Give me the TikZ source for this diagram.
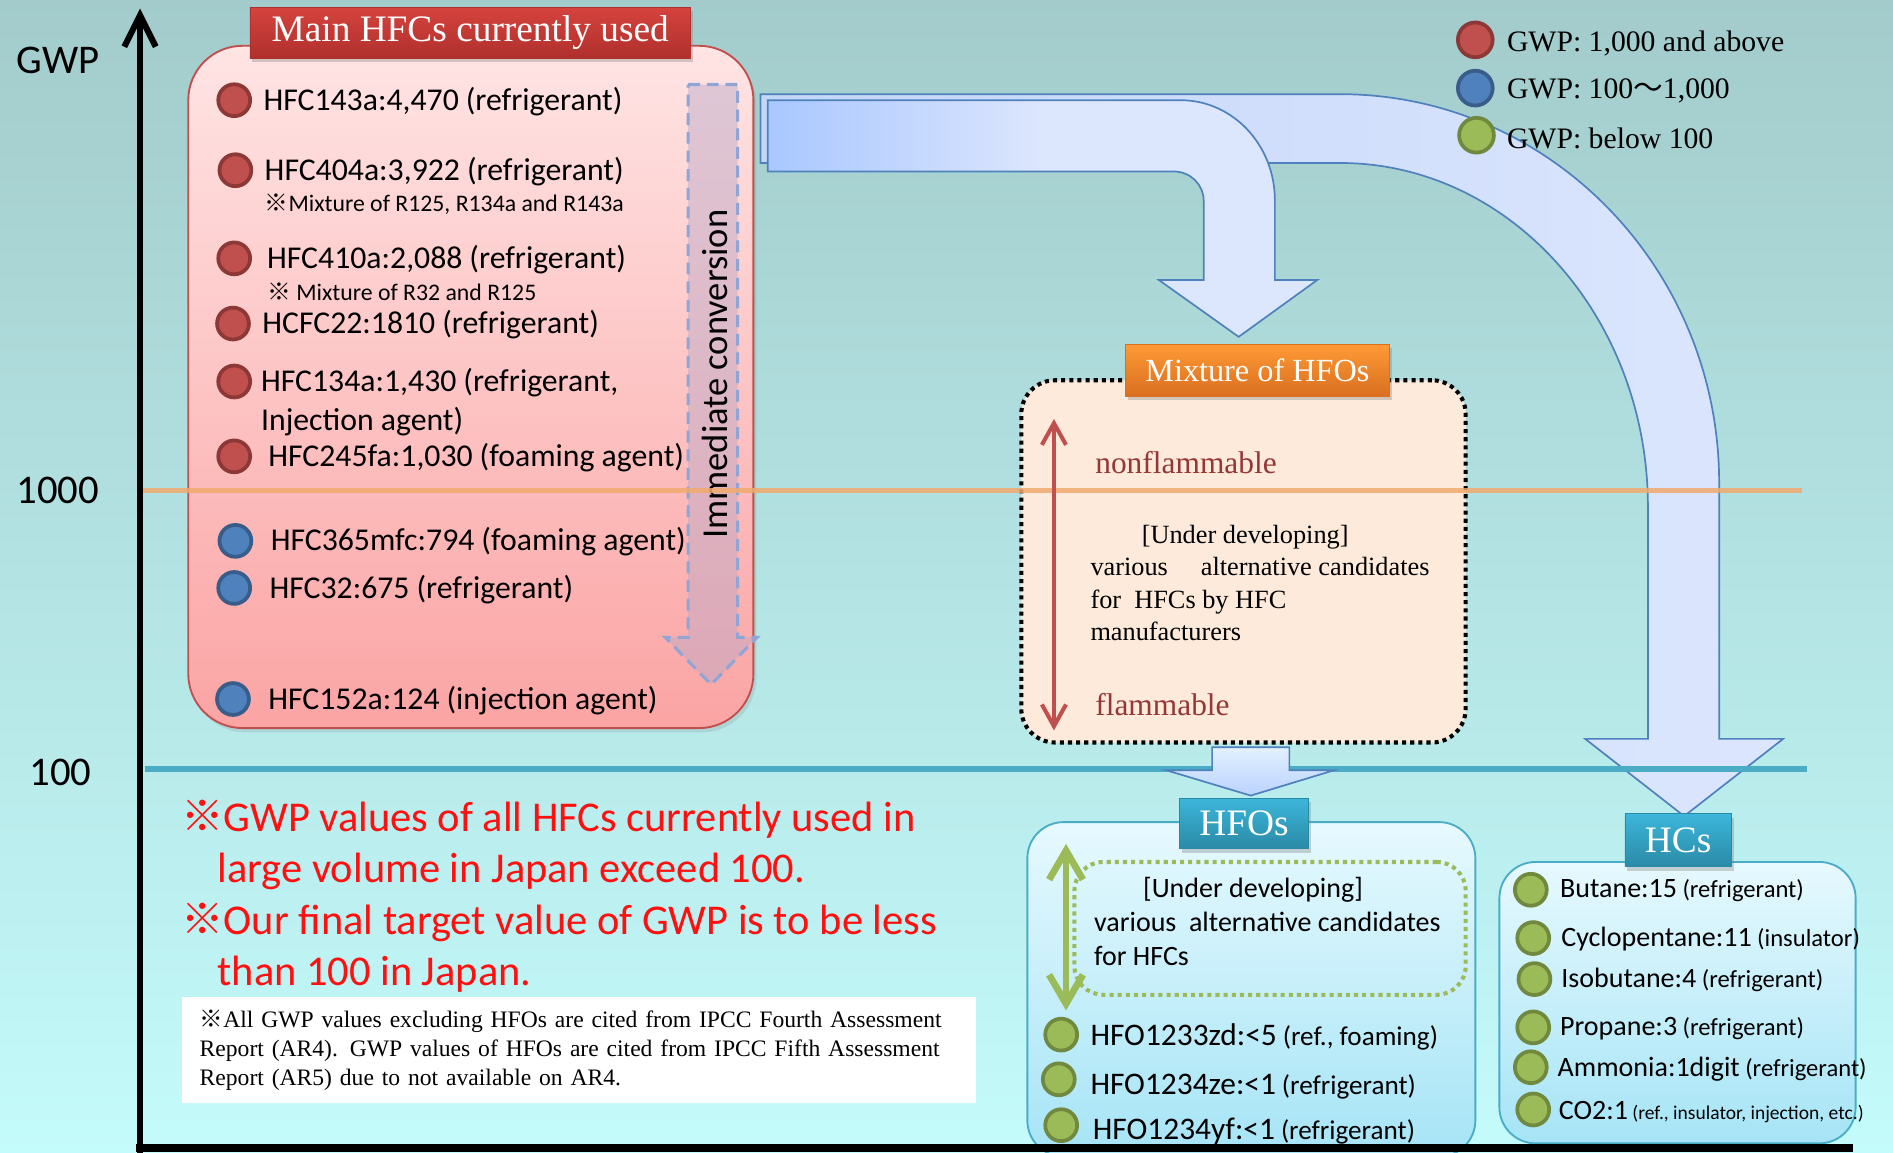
\documentclass[tikz,border=0pt]{standalone}
\usepackage{fontspec}
\setmainfont{Liberation Serif}
\newfontfamily\carlito{Carlito}
\newfontfamily\jpfont{Noto Sans CJK JP}
\usepackage{xcolor}
\usepackage{tikz}
\usetikzlibrary{arrows.meta,positioning,shadows}
\definecolor{bgtop}{HTML}{A3CBCB}
\definecolor{bgbot}{HTML}{C4FBFB}
\definecolor{hfctop}{HTML}{FFE4E4}
\definecolor{hfcbot}{HTML}{FBA4A4}
\definecolor{hfcline}{HTML}{C0504D}
\definecolor{redtabtop}{HTML}{D5433D}
\definecolor{redtabbot}{HTML}{B0302D}
\definecolor{bulred}{HTML}{C0504D}
\definecolor{bulredd}{HTML}{8C3836}
\definecolor{bulblue}{HTML}{4F81BD}
\definecolor{bulblued}{HTML}{385D8A}
\definecolor{bulgreen}{HTML}{9BBB59}
\definecolor{bulgreend}{HTML}{71893F}
\definecolor{arrline}{HTML}{4F81BD}
\definecolor{arrA}{HTML}{A9C7FF}
\definecolor{arrB}{HTML}{DCE6FD}
\definecolor{arrC}{HTML}{C4D6FA}
\definecolor{mixfill}{HTML}{FDEADA}
\definecolor{mixtop}{HTML}{FF9A35}
\definecolor{mixbot}{HTML}{D96F20}
\definecolor{hfotop}{HTML}{E6F9FE}
\definecolor{hfobot}{HTML}{A6E4F6}
\definecolor{tealline}{HTML}{4BACC6}
\definecolor{tealtop}{HTML}{3CB6DA}
\definecolor{tealbot}{HTML}{2A8AA6}
\definecolor{orangeline}{HTML}{F0AA6E}
\definecolor{flamred}{HTML}{953735}
\definecolor{notered}{HTML}{FF1010}
\definecolor{convfill}{HTML}{B8A8C8}
\definecolor{convline}{HTML}{8EA5D6}
\newcommand{\kome}{{\jpfont ※}}
\newcommand{\fsz}[2]{\fontsize{#1}{#2}\selectfont}
\newcommand{\purpose}[2][]{{#1\hspace{0.22em}(#2)}}

\begin{document}
\begin{tikzpicture}[x=0.025cm,y=-0.025cm,
    every node/.style={inner sep=0pt},
    axislbl/.style={font=\carlito\fsz{24}{28}},
    axisline/.style={line width=3.6pt,black},
    level/.style={line width=#1},
    hfcbox/.style={draw=hfcline,line width=1.1pt,rounded corners=1.125cm,top color=hfctop,bottom color=hfcbot,minimum width=11.7cm,minimum height=14.125cm,drop shadow={opacity=0.2,shadow xshift=0.6mm,shadow yshift=-0.9mm}},
    tabbox/.style={text=white,font=\fsz{22}{26},drop shadow={opacity=0.35,shadow xshift=0.5mm,shadow yshift=-0.8mm}},
    redtab/.style={tabbox,top color=redtabtop,bottom color=redtabbot,draw=redtabbot},
    orangetab/.style={tabbox,top color=mixtop,bottom color=mixbot,draw=mixbot},
    tealtab/.style={tabbox,top color=tealtop,bottom color=tealbot,draw=tealbot},
    redbullet/.style={circle,minimum size=6.6mm,fill=bulred,draw=bulredd,line width=2.2pt},
    bluebullet/.style={circle,minimum size=6.6mm,fill=bulblue,draw=bulblued,line width=2.2pt},
    greenbullet/.style={circle,minimum size=6.6mm,fill=bulgreen,draw=bulgreend,line width=2.2pt},
    hfcitem/.style={anchor=west,align=left,font=\carlito\fsz{18.7}{22.75}},
    hfcnote/.style={anchor=west,font=\carlito\fsz{14}{17}},
    convarrow/.style={draw=convline,dash pattern=on 7pt off 4pt,line width=1.8pt,fill=convfill,fill opacity=0.45},
    convtext/.style={font=\carlito\fsz{21.5}{25}},
    bigarrow/.style={draw=arrline,line width=1pt},
    mixbox/.style={draw=black,line width=2.4pt,dash pattern=on 2.4pt off 2.4pt,rounded corners=0.7cm,fill=mixfill,minimum width=9.2cm,minimum height=7.5cm},
    flamlbl/.style={anchor=west,text=flamred,font=\fsz{18.5}{22}},
    mixbody/.style={anchor=west,align=left,font=\fsz{15.5}{19}},
    bluebox/.style={draw=tealline,line width=1.1pt,top color=hfotop,bottom color=hfobot,rounded corners=0.75cm},
    canddot/.style={draw=bulgreen,line width=2.4pt,dash pattern=on 2.4pt off 2.4pt,rounded corners=0.6cm,minimum width=8.1cm,minimum height=2.75cm},
    hfobody/.style={anchor=west,align=left,font=\carlito\fsz{16.5}{20}},
    hfoitem/.style={anchor=west,font=\carlito\fsz{18.5}{22}},
    hcitem/.style={anchor=west,font=\carlito\fsz{16.5}{20}},
    arr/.style={line width=#1},
    legbullet/.style={circle,minimum size=7.2mm,line width=2.2pt},
    legtext/.style={anchor=west,font=\fsz{17.5}{21}},
    redline/.style={anchor=west,align=left,text=notered,font=\carlito\fsz{25}{30}},
    fnbox/.style={fill=white,minimum width=16.425cm,minimum height=2.2cm,text width=15.7cm,align=left,font=\fsz{13.9}{17}}
  ]
  \fill[top color=bgtop,bottom color=bgbot] (0,0) rectangle (1568,955);
  \useasboundingbox (0,0) rectangle (1568,955);

  \node[hfcbox] (hfcbox) at (390,320.5) {};

  \path[convarrow] (570,70) -- (611,70) -- (611,528) -- (627,528) -- (589,567) -- (551,528) -- (570,528) -- cycle;
  \node[convtext,rotate=90] (conv) at (592,310) {Immediate conversion};

  \path[bigarrow,left color=arrC,right color=arrB] (630,78) -- (1110,78) .. controls (1283,78) and (1424,222) .. (1424,400)
    -- (1424,612) -- (1477,612) -- (1395,676) -- (1313,612) -- (1365,612) -- (1365,420)
    .. controls (1365,263) and (1251,135) .. (1110,135) -- (630,135) -- cycle;
  \path[bigarrow,left color=arrA,right color=arrB,middle color=arrB] (636,83) -- (978,83) .. controls (1021,83) and (1056,120) .. (1056,166)
    -- (1056,232) -- (1091,232) -- (1026,279) -- (960,232) -- (997,232) -- (997,166)
    .. controls (997,153) and (986,142) .. (972,142) -- (636,142) -- cycle;

  \node[mixbox] (mixbox) at (1030,465) {};
  \node[bluebox,minimum width=9.275cm,minimum height=6.925cm] (hfobox) at (1036.5,819.5) {};
  \node[bluebox,minimum width=7.375cm,minimum height=5.825cm] (hcbox) at (1389.5,830.5) {};

  \coordinate (l1000a) at (116,406);
  \coordinate (l1000b) at (1493,406);
  \coordinate (l100a) at (120,637);
  \coordinate (l100b) at (1497,637);
  \draw[level=2.8pt,orangeline,opacity=0.85] (l1000a) -- (l1000b);
  \draw[level=4pt,tealline] (l100a) -- (l100b);

  \path[bigarrow,top color=hfotop!60!arrB,bottom color=arrA!80!white] (1004,619) -- (1068,619) -- (1068,638) -- (1105,638) -- (1036,659) -- (966,638) -- (1004,638) -- cycle;

  \node[redtab,minimum width=9.125cm,minimum height=1.05cm] (hfctab) at (389.5,27) {Main HFCs currently used};
  \node[orangetab,minimum width=5.475cm,minimum height=1.075cm,font=\fsz{19}{23}] (mixtab) at (1041.5,306.5) {Mixture of HFOs};
  \node[tealtab,minimum width=2.675cm,minimum height=1.05cm] (hfotab) at (1030.5,682) {HFOs};
  \node[tealtab,minimum width=2.2cm,minimum height=1.1cm] (hctab) at (1390,696) {HCs};

  \node[redbullet] (c1) at (194,83) {};
  \node[hfcitem] (t1) at (218,84) {HFC143a:4,470\purpose{refrigerant}};
  \node[redbullet] (c2) at (195,141) {};
  \node[hfcitem] (t2) at (219,142) {HFC404a:3,922\purpose{refrigerant}};
  \node[hfcnote] (n2) at (219,169) {\kome Mixture of R125, R134a and R143a};
  \node[redbullet] (c3) at (194,214) {};
  \node[hfcitem] (t3) at (221,215) {HFC410a:2,088\purpose{refrigerant}};
  \node[hfcnote] (n3) at (221,242) {\kome\ Mixture of R32 and R125};
  \node[redbullet] (c4) at (193,268) {};
  \node[hfcitem] (t4) at (217,269) {HCFC22:1810\purpose{refrigerant}};
  \node[redbullet] (c5) at (194,316) {};
  \node[hfcitem] (t5) at (216,333) {HFC134a:1,430\hspace{0.22em}(refrigerant,\\Injection agent)};
  \node[redbullet] (c6) at (194,378) {};
  \node[hfcitem] (t6) at (222,379) {HFC245fa:1,030\purpose{foaming agent}};
  \node[bluebullet] (c7) at (195,448) {};
  \node[hfcitem] (t7) at (224,449) {HFC365mfc:794\purpose{foaming agent}};
  \node[bluebullet] (c8) at (194,487) {};
  \node[hfcitem] (t8) at (223,488) {HFC32:675\purpose{refrigerant}};
  \node[bluebullet] (c9) at (193,579) {};
  \node[hfcitem] (t9) at (222,580) {HFC152a:124\purpose{injection agent}};

  \coordinate (flamtop) at (873,347);
  \coordinate (flambot) at (873,605);
  \draw[arr=2.4pt,bulred,{Straight Barb[length=4.5mm,width=5mm]}-{Straight Barb[length=4.5mm,width=5mm]}] (flamtop) -- (flambot);
  \node[flamlbl] (nonflam) at (907,383) {nonflammable};
  \node[flamlbl] (flam) at (907,584) {flammable};
  \node[mixbody] (mixtext) at (903,483) {\hspace*{1.95em}[Under developing]\\various\quad\ alternative candidates\\for~ HFCs by HFC\\manufacturers};

  \node[canddot] (cand) at (1052,769) {};
  \coordinate (candtop) at (883,699);
  \coordinate (candbot) at (883,837);
  \draw[arr=4pt,bulgreen,{Straight Barb[length=6mm,width=7mm]}-{Straight Barb[length=6mm,width=7mm]}] (candtop) -- (candbot);
  \node[hfobody] (candtext) at (906,763) {\hspace*{1.75em}[Under developing]\\various\ \ alternative candidates\\for HFCs};

  \node[greenbullet] (g1) at (879,857) {};
  \node[hfoitem] (h1) at (903,859) {HFO1233zd:<5\purpose[\fsz{16}{19}]{ref., foaming}};
  \node[greenbullet] (g2) at (877,894) {};
  \node[hfoitem] (h2) at (903,900) {HFO1234ze:<1\purpose[\fsz{16}{19}]{refrigerant}};
  \node[greenbullet] (g3) at (879,932) {};
  \node[hfoitem] (h3) at (905,937) {HFO1234yf:<1\purpose[\fsz{16}{19}]{refrigerant}};

  \node[greenbullet] (k1) at (1268,737) {};
  \node[hcitem] (s1) at (1292,738) {Butane:15\purpose[\fsz{14.5}{17}]{refrigerant}};
  \node[greenbullet] (k2) at (1270,777) {};
  \node[hcitem] (s2) at (1293,778) {Cyclopentane:11\purpose[\fsz{14.5}{17}]{insulator}};
  \node[greenbullet] (k3) at (1271,811) {};
  \node[hcitem] (s3) at (1293,812) {Isobutane:4\purpose[\fsz{14.5}{17}]{refrigerant}};
  \node[greenbullet] (k4) at (1270,851) {};
  \node[hcitem] (s4) at (1292,852) {Propane:3\purpose[\fsz{14.5}{17}]{refrigerant}};
  \node[greenbullet] (k5) at (1268,884) {};
  \node[hcitem] (s5) at (1290,886) {Ammonia:1digit\purpose[\fsz{14.5}{17}]{refrigerant}};
  \node[greenbullet] (k6) at (1270,919) {};
  \node[hcitem] (s6) at (1291,921) {CO2:1\purpose[\fsz{11.5}{14}]{ref., insulator, injection, etc.}};

  \node[legbullet,fill=bulred,draw=bulredd] (leg1) at (1222,33) {};
  \node[legtext] (legt1) at (1248,36) {GWP: 1,000 and above};
  \node[legbullet,fill=bulblue,draw=bulblued] (leg2) at (1222,73) {};
  \node[legtext] (legt2) at (1248,75) {GWP: 100{\jpfont 〜}1,000};
  \node[legbullet,fill=bulgreen,draw=bulgreend] (leg3) at (1223,112) {};
  \node[legtext] (legt3) at (1248,115) {GWP: below 100};

  \node[redline] (note1) at (150,700) {\kome GWP values of all HFCs currently used in\\\hspace*{0.85em}large volume in Japan exceed 100.};
  \node[redline] (note2) at (150,785) {\kome Our final target value of GWP is to be less\\\hspace*{0.85em}than 100 in Japan.};
  \node[fnbox] (fn) at (479.5,870) {\kome All GWP values excluding HFOs are cited from IPCC Fourth Assessment\\Report (AR4). GWP values of HFOs are cited from IPCC Fifth Assessment\\Report (AR5) due to not available on AR4.};

  \node[axislbl] (gwp) at (48,50) {GWP};
  \node[axislbl] (lab1000) at (48,406) {1000};
  \node[axislbl] (lab100) at (50,640) {100};
  \coordinate (orig) at (116,958);
  \coordinate (gwptop) at (116,7);
  \coordinate (xstart) at (113,951);
  \coordinate (xend) at (1535,951);
  \draw[axisline,line width=4.3pt] (xstart) -- (xend);
  \draw[axisline,-{Straight Barb[length=6.5mm,width=6.5mm]}] (orig) -- (gwptop);
\end{tikzpicture}
\end{document}
